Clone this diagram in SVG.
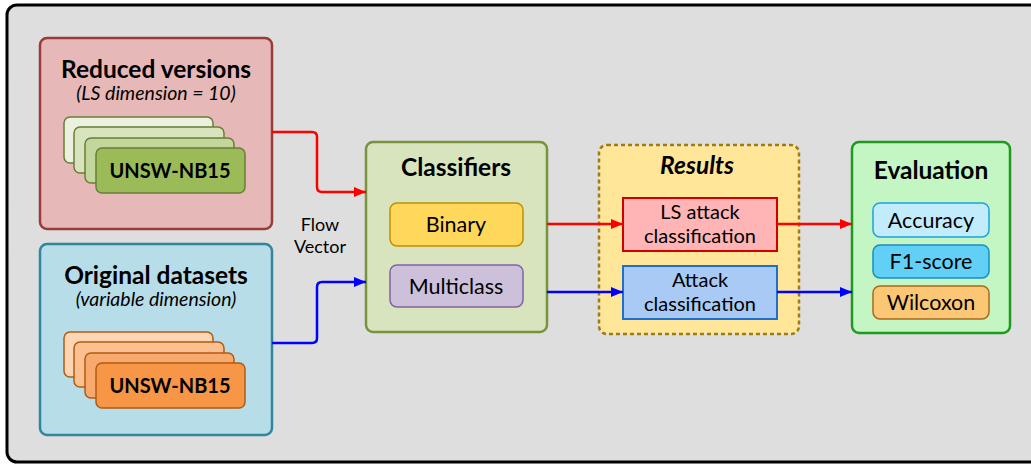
<svg xmlns="http://www.w3.org/2000/svg" width="1031" height="464" viewBox="0 0 1031 464">
<defs>
<style>
text{font-family:Lato,"Open Sans","Liberation Sans",sans-serif;fill:#000;text-anchor:middle}
.t{font-weight:bold;font-size:24.5px}
.s{font-style:italic;font-size:19.5px}
.c{font-weight:bold;font-size:20px}
.l{font-size:21.5px}
.m{font-size:20px}
.f{font-size:18px}
.card{stroke-width:1.5}
.wire{fill:none;stroke-width:2.5;stroke-linejoin:round}
</style>
<marker id="ar" markerWidth="12" markerHeight="10" refX="12" refY="5" orient="auto" markerUnits="userSpaceOnUse"><path d="M0,0 L12,5 L0,10 Z" fill="#ff0000"/></marker>
<marker id="ab" markerWidth="12" markerHeight="10" refX="12" refY="5" orient="auto" markerUnits="userSpaceOnUse"><path d="M0,0 L12,5 L0,10 Z" fill="#0000ff"/></marker>
</defs>
<rect x="7" y="5" width="1040" height="457" rx="10" fill="#dedede" stroke="#000" stroke-width="3"/>

<g id="reduced">
<rect x="40" y="38" width="232" height="191" rx="7" fill="#e6b8b7" stroke="#983c39" stroke-width="2.5"/>
<text class="t" x="156" y="78">Reduced versions</text>
<text class="s" x="156" y="100">(LS dimension = 10)</text>
<rect class="card" x="64" y="117" width="149" height="46" rx="6" fill="#ebf1de" stroke="#687f36"/>
<rect class="card" x="74" y="127" width="150" height="46" rx="6" fill="#d7e4bd" stroke="#687f36"/>
<rect class="card" x="85" y="138" width="149" height="45" rx="6" fill="#c3d69b" stroke="#687f36"/>
<rect class="card" x="96" y="148" width="149" height="45" rx="6" fill="#9bbb59" stroke="#687f36"/>
<text class="c" x="170" y="178">UNSW-NB15</text>
</g>

<g id="original">
<rect x="40" y="244" width="232" height="191" rx="7" fill="#b7dde8" stroke="#31859c" stroke-width="2.5"/>
<text class="t" x="156" y="284">Original datasets</text>
<text class="s" x="156" y="306">(variable dimension)</text>
<rect class="card" x="64" y="332" width="149" height="45" rx="6" fill="#fcd5b5" stroke="#b05b12"/>
<rect class="card" x="74" y="342" width="150" height="45" rx="6" fill="#fac090" stroke="#b05b12"/>
<rect class="card" x="85" y="353" width="149" height="45" rx="6" fill="#f8aa6e" stroke="#b05b12"/>
<rect class="card" x="96" y="363" width="149" height="45" rx="6" fill="#f79646" stroke="#b05b12"/>
<text class="c" x="170" y="393">UNSW-NB15</text>
</g>

<g id="flowlabel">
<text class="f" x="320" y="231">Flow</text>
<text class="f" x="320" y="253">Vector</text>
</g>

<g id="classifiers">
<rect x="366" y="142" width="181" height="190" rx="7" fill="#d7e4bd" stroke="#77933c" stroke-width="2.5"/>
<text class="t" x="456" y="176">Classifiers</text>
<rect x="390" y="203" width="133" height="43" rx="7" fill="#ffd75a" stroke="#c09000" stroke-width="1.5"/>
<text class="l" x="456" y="232">Binary</text>
<rect x="390" y="265" width="133" height="42" rx="7" fill="#ccc0da" stroke="#8064a2" stroke-width="1.5"/>
<text class="l" x="456" y="294">Multiclass</text>
</g>

<g id="results">
<rect x="599" y="145" width="200" height="189" rx="8" fill="#ffe699" stroke="#a07c10" stroke-width="2.5" stroke-dasharray="4,3"/>
<text class="t" x="697" y="174" font-style="italic" font-size="25.5px">Results</text>
<rect x="623" y="198" width="154" height="53" fill="#ffb5b5" stroke="#d00000" stroke-width="2"/>
<text class="m" x="700" y="219">LS attack</text>
<text class="m" x="700" y="243">classification</text>
<rect x="623" y="266" width="154" height="53" fill="#a8caf4" stroke="#1f6fd0" stroke-width="2"/>
<text class="m" x="700" y="287">Attack</text>
<text class="m" x="700" y="311">classification</text>
</g>

<g id="evaluation">
<rect x="852" y="142" width="158" height="191" rx="7" fill="#c4f6c4" stroke="#1e9b1e" stroke-width="2.5"/>
<text class="t" x="931" y="179">Evaluation</text>
<rect x="873" y="203" width="116" height="34" rx="7" fill="#c2ecfc" stroke="#1aa3e0" stroke-width="1.5"/>
<text class="l" x="931" y="228">Accuracy</text>
<rect x="873" y="245" width="116" height="33" rx="7" fill="#62d0f6" stroke="#1590c0" stroke-width="1.5"/>
<text class="l" x="931" y="269">F1-score</text>
<rect x="873" y="286" width="116" height="33" rx="7" fill="#fbc775" stroke="#a86a1a" stroke-width="1.5"/>
<text class="l" x="931" y="310">Wilcoxon</text>
</g>

<g id="connectors">
<path class="wire" stroke="#ff0000" marker-end="url(#ar)" d="M272,132 H312 Q317,132 317,137 V187 Q317,192 322,192 H366"/>
<path class="wire" stroke="#0000ff" marker-end="url(#ab)" d="M272,343 H312 Q317,343 317,338 V287 Q317,282 322,282 H366"/>
<path class="wire" stroke="#ff0000" marker-end="url(#ar)" d="M547,224 H623"/>
<path class="wire" stroke="#0000ff" marker-end="url(#ab)" d="M547,292 H623"/>
<path class="wire" stroke="#ff0000" marker-end="url(#ar)" d="M777,224 H852"/>
<path class="wire" stroke="#0000ff" marker-end="url(#ab)" d="M777,292 H852"/>
</g>
</svg>
